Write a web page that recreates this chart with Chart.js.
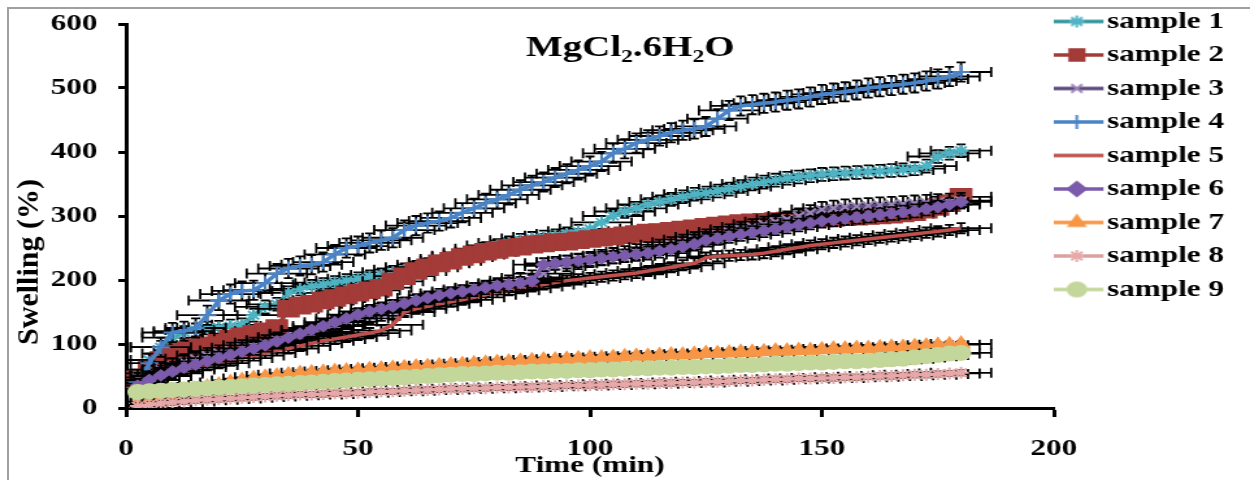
<!DOCTYPE html>
<html><head><meta charset="utf-8">
<script src="https://cdn.jsdelivr.net/npm/chart.js@4/dist/chart.umd.min.js"></script>
<style>
html,body{margin:0;padding:0;background:#fff;overflow:hidden;width:1250px;height:480px;}
#wrap{position:absolute;left:0;top:0;width:962px;height:480px;transform:scaleX(1.2994);transform-origin:0 0;}
#frame{position:absolute;left:7px;top:7px;width:1400px;height:600px;border-left:2px solid #a0a0a0;border-top:2px solid #a0a0a0;pointer-events:none;}
</style></head><body>
<div id="wrap"><canvas id="c"></canvas></div>
<div id="frame"></div>
<script>
// ---- data ----
const times = [2.5,5,7.5,10,12.5,15,17.5,20,22.5,25,27.5,30,
  32.5,35,37.5,40,42.5,45,47.5,50,52.5,55,57.5,60,
  62.5,65,67.5,70,72.5,75,77.5,80,82.5,85,87.5,90,
  92.5,95,97.5,100,102.5,105,107.5,110,112.5,115,117.5,120,
  122.5,125,127.5,130,132.5,135,137.5,140,142.5,145,147.5,150,
  152.5,155,157.5,160,162.5,165,167.5,170,172.5,175,177.5,180];

const seriesNames = ['sample 1','sample 2','sample 3','sample 4','sample 5','sample 6','sample 7','sample 8','sample 9'];

const sample1 = [45,75,95,110,118,122,125,126,128,130,145,158,
  162,180,186,190,193,196,199,202,205,208,212,216,
  220,224,228,233,238,243,249,254,258,262,265,267,
  269,272,276,280,290,300,307,312,318,322,326,330,
  334,336,339,342,346,350,353,356,359,361,363,365,
  366,367,368,369,370,371,372,374,378,393,398,402];
const sample2 = [45,60,75,85,90,95,98,102,108,112,116,120,
  125,155,160,163,168,172,176,180,184,188,198,206,
  214,220,226,230,236,240,244,247,250,252,255,257,
  259,260,262,264,266,268,270,272,274,275,277,279,
  281,283,285,287,289,290,291,292,293,294,295,296,
  297,298,299,300,301,302,304,306,310,314,320,330];
const sample3 = [48,54,60,66,72,77,82,86,90,94,98,102,
  106,110,115,120,125,130,135,140,144,148,152,156,
  160,165,170,175,179,183,187,191,195,199,203,210,
  222,226,229,232,235,238,241,244,247,251,255,259,
  263,267,271,275,279,283,287,291,295,300,305,310,
  312,314,315,316,317,318,319,320,321,322,323,324];
const sample4 = [40,70,95,118,120,125,145,168,178,183,184,195,
  210,218,222,224,228,240,250,253,258,262,266,278,
  285,289,292,297,305,312,320,326,333,341,348,353,
  360,366,372,378,385,398,405,414,419,425,430,434,
  436,440,452,465,472,474,476,478,481,483,486,490,
  492,494,497,500,502,504,506,508,511,514,518,525];
const sample5 = [38,44,50,54,60,64,67,70,74,78,82,86,
  90,93,97,101,105,108,111,114,117,121,130,150,
  155,159,163,166,169,173,177,181,184,187,190,193,
  196,199,201,203,205,207,209,211,214,217,220,223,
  226,235,237,238,239,240,242,245,248,251,254,256,
  258,260,262,264,266,268,270,272,274,276,278,281];
const sample6 = [35,44,51,57,63,68,73,78,83,88,93,98,
  104,110,116,122,128,134,140,146,151,155,159,163,
  168,172,176,179,182,185,188,191,193,195,198,224,
  226,228,230,232,234,236,238,240,242,245,248,252,
  256,262,265,268,271,274,277,280,283,286,289,292,
  294,296,298,300,302,304,306,308,311,314,318,322];
const sample7 = [5,10,15,20,25,29,33,36,40,43,46,48,
  50,52,54,55,56,57,58,59,60,61,62,63,
  64,65,66,67,68,69,70,71,72,73,74,75,
  75,76,77,78,78,79,80,81,81,82,83,83,
  84,85,85,86,87,87,88,89,89,90,90,91,
  92,92,93,93,94,95,95,96,97,98,99,100];
const sample8 = [3,5,7,9,10,12,13,14,15,16,17,18,
  19,20,21,21,22,23,23,24,25,26,26,27,
  28,28,29,30,30,31,31,32,32,33,33,34,
  34,35,35,36,36,37,37,38,38,39,39,40,
  40,41,41,42,43,43,44,45,45,46,46,47,
  47,48,48,49,50,50,51,52,52,53,54,55];
const sample9 = [25,26,27,28,29,30,31,32,33,34,35,36,
  37,38,39,40,41,42,43,44,45,46,47,48,
  49,50,51,52,53,53,54,55,55,56,57,57,
  58,58,59,59,60,60,61,62,62,63,63,64,
  64,65,65,66,67,67,68,69,69,70,71,71,
  72,73,73,74,75,76,77,79,81,83,85,86];
const seriesValues = [sample1,sample2,sample3,sample4,sample5,sample6,sample7,sample8,sample9];

// error bar half-widths (x in min, y in %)
const errX = 6.5;
const errY = [10,10,12,15,8,10,5,4,5];

const xTicks = [0,50,100,150,200];
const yTicks = [0,100,200,300,400,500,600];

// ---- styles ----
const SX = 1250/962;
const FONT = "'Liberation Serif','Times New Roman',serif";
const lineColors   = ['#31959F','#A33B38','#5C4A7E','#4A84C6','#C0504D','#7B5BAB','#F79646','#DDA0A0','#C4D79B'];
const markerColors = ['#4FB3C4','#A33B38','#9A86B8','#4A84C6','#C0504D','#7B5BAB','#F79646','#E6A8A8','#C4D79B'];
const markerStyles = ['star','rect','crossRot','cross','circle','rectRot','triangle','star','circle'];
const markerRadius = [6,11,6,7,0,5,7,6,7];

function makeLegendImg(i){
  const c = document.createElement('canvas');
  c.width = 44; c.height = 24;
  const g = c.getContext('2d');
  g.strokeStyle = lineColors[i]; g.lineWidth = 3.5;
  g.beginPath(); g.moveTo(0,12); g.lineTo(41,12); g.stroke();
  if (markerRadius[i] > 0) {
    const r = Math.min(markerRadius[i], 8) + (i === 5 ? 2 : 0);
    g.fillStyle = markerColors[i]; g.strokeStyle = markerColors[i]; g.lineWidth = 2;
    if (Chart.helpers && Chart.helpers.drawPoint) {
      Chart.helpers.drawPoint(g, {pointStyle: markerStyles[i], radius: r, rotation: 0, borderWidth: 2}, 20.5, 12);
    } else {
      g.beginPath(); g.arc(20.5,12,r,0,Math.PI*2); g.fill();
    }
  }
  return c;
}
const legendImgs = seriesNames.map((n,i)=>makeLegendImg(i));

const errorBars = {
  id: 'errorBars',
  beforeDatasetDraw(chart, args) {
    const i = args.index;
    const ctx = chart.ctx, xs = chart.scales.x, ys = chart.scales.y, a = chart.chartArea;
    ctx.save();
    ctx.beginPath(); ctx.rect(a.left, a.top, a.right - a.left, a.bottom - a.top); ctx.clip();
    ctx.strokeStyle = '#000'; ctx.lineWidth = 1.8;
    ctx.beginPath();
    times.forEach((t, j) => {
      const v = seriesValues[i][j];
      const px = xs.getPixelForValue(t), py = ys.getPixelForValue(v);
      const xl = xs.getPixelForValue(t - errX), xr = xs.getPixelForValue(t + errX);
      const yt = ys.getPixelForValue(v + errY[i]), yb = ys.getPixelForValue(v - errY[i]);
      ctx.moveTo(xl, py); ctx.lineTo(xr, py);
      ctx.moveTo(xl, py - 5); ctx.lineTo(xl, py + 5);
      ctx.moveTo(xr, py - 5); ctx.lineTo(xr, py + 5);
      ctx.moveTo(px, yt); ctx.lineTo(px, yb);
      ctx.moveTo(px - 3.5, yt); ctx.lineTo(px + 3.5, yt);
      ctx.moveTo(px - 3.5, yb); ctx.lineTo(px + 3.5, yb);
    });
    ctx.stroke();
    ctx.restore();
  }
};

const yTitle = {
  id: 'yTitle',
  afterDraw(chart) {
    const ctx = chart.ctx;
    ctx.save();
    ctx.translate(23, 262);
    ctx.scale(1/SX, 1);
    ctx.rotate(-Math.PI/2);
    ctx.font = "bold 30px " + FONT;
    ctx.fillStyle = '#000'; ctx.textAlign = 'center'; ctx.textBaseline = 'middle';
    ctx.fillText('Swelling (%)', 0, 0);
    ctx.restore();
  }
};

const datasets = seriesNames.map((n, i) => ({
  label: n,
  data: times.map((t, j) => ({x: t, y: seriesValues[i][j]})),
  borderColor: lineColors[i],
  backgroundColor: markerColors[i],
  pointBackgroundColor: markerColors[i],
  pointBorderColor: markerColors[i],
  pointStyle: markerStyles[i],
  pointRadius: markerRadius[i],
  pointBorderWidth: 2,
  borderWidth: 3.5,
  tension: 0,
  order: 8 - i
}));

new Chart(document.getElementById('c'), {
  type: 'line',
  data: { datasets },
  plugins: [errorBars, yTitle],
  options: {
    responsive: true, maintainAspectRatio: false, animation: false, devicePixelRatio: 1,
    layout: { padding: { left: 18, right: 10, top: 0, bottom: 0 } },
    plugins: {
      tooltip: { enabled: false },
      title: { display: true, text: 'MgCl\u2082.6H\u2082O', color: '#000',
        font: { family: FONT, size: 30, weight: 'bold' }, padding: { top: 30.5, bottom: -42.5 } },
      legend: {
        position: 'right', align: 'start',
        labels: {
          usePointStyle: true, pointStyleWidth: 19.5, padding: 9.5, color: '#000',
          font: { family: FONT, size: 24, weight: 'bold' },
          sort: (a, b) => a.datasetIndex - b.datasetIndex,
          generateLabels: (chart) => chart.data.datasets.map((ds, i) => ({
            text: ds.label, pointStyle: legendImgs[i], datasetIndex: i,
            fillStyle: lineColors[i], strokeStyle: lineColors[i], lineWidth: 0,
            hidden: false, fontColor: '#000'
          }))
        }
      }
    },
    scales: {
      x: {
        type: 'linear', min: xTicks[0], max: xTicks[xTicks.length - 1],
        afterBuildTicks: (s) => { s.ticks = xTicks.map(v => ({value: v})); },
        ticks: { color: '#000', font: { family: FONT, size: 24, weight: 'bold' }, padding: 17.6, maxRotation: 0, autoSkip: false },
        grid: { drawOnChartArea: false, drawTicks: true, tickLength: 9, tickWidth: 3, tickColor: '#000' },
        border: { display: true, color: '#000', width: 3 },
        title: { display: true, text: 'Time (min)', color: '#000', font: { family: FONT, size: 24, weight: 'bold' }, padding: { top: 0, bottom: 0 } },
        afterFit: (s) => { s.height = 72; }
      },
      y: {
        type: 'linear', min: yTicks[0], max: yTicks[yTicks.length - 1],
        afterBuildTicks: (s) => { s.ticks = yTicks.map(v => ({value: v})); },
        ticks: { color: '#000', font: { family: FONT, size: 24, weight: 'bold' }, padding: 16, autoSkip: false },
        grid: { drawOnChartArea: false, drawTicks: true, tickLength: 6, tickWidth: 3, tickColor: '#000' },
        border: { display: true, color: '#000', width: 3 },
        afterFit: (s) => { s.width = 79; s.paddingTop = 0; s.paddingBottom = 0; }
      }
    }
  }
});
</script></body></html>
